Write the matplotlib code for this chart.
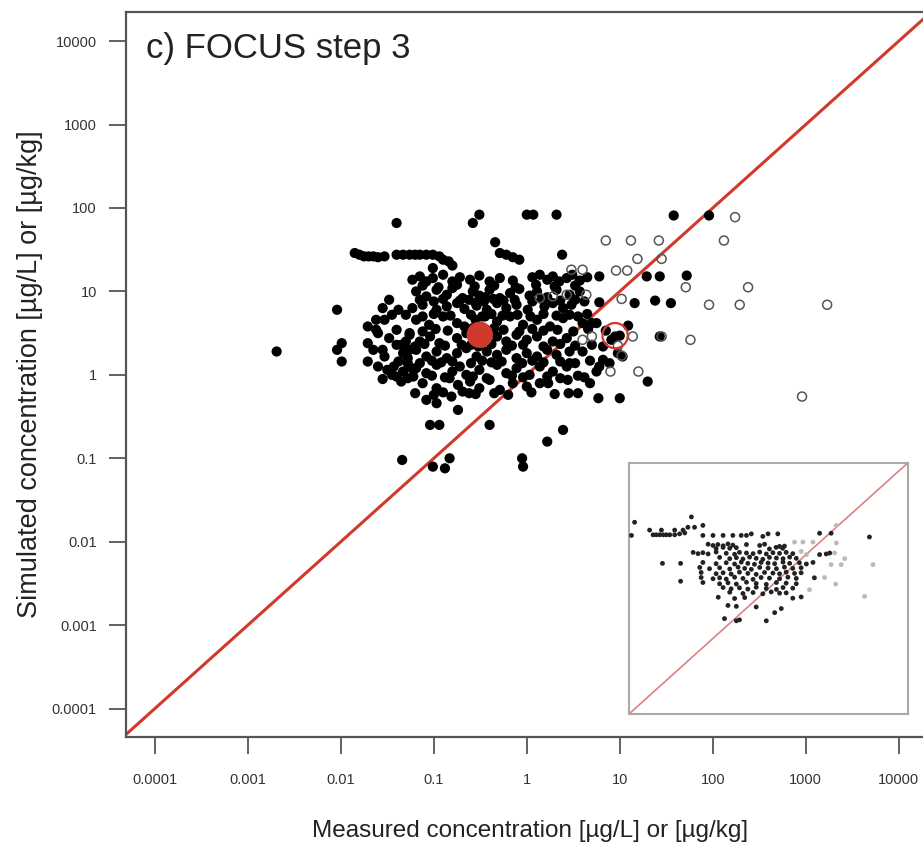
import numpy as np
import matplotlib.pyplot as plt
from matplotlib.ticker import FixedLocator, NullLocator

plt.rcParams['font.family'] = ['Liberation Sans', 'DejaVu Sans']

# log10 of measured / simulated concentrations, main panel (filled = detected)
meas_filled = [
    -1.40, -0.58, -0.51, 0.00, 0.07, 0.32, 1.58, 1.96,
    -0.34,
    -1.85, -1.80, -1.75, -1.70, -1.65, -1.60, -1.53, -1.40, -1.33, -1.26, -1.20, -1.15, -1.08, -1.01, -0.94, -0.90, -0.84,
    -0.29, -0.22, -0.15, -0.08, 0.38,
    -1.01, -0.80,
    -1.23, -1.15, -1.08, -1.01, -0.90, -0.80, -0.72, -0.61, -0.51, -0.40, -0.29, -0.15, 0.06, 0.14, 0.22, 0.28, 0.35, 0.43, 0.49, 0.57, 0.65, 0.78, 1.29, 1.43, 1.72,
    -1.12, -0.95, -0.75, -0.56, -0.35, -0.12, 0.10, 0.30, 0.52,
    -1.19, -1.08, -0.97, -0.86, -0.80, -0.69, -0.58, -0.51, -0.40, -0.29, -0.18, -0.08, 0.03, 0.11, 0.22, 0.32, 0.46, 0.57,
    -1.15, -1.00, -0.90, -0.72, -0.62, -0.46, -0.36, -0.25, -0.13, 0.06, 0.16, 0.36, 0.52, 0.62,
    -1.23, -1.12, -0.97, -0.86, -0.75, -0.67, -0.54, -0.43, -0.32, -0.22, -0.11, 0.01, 0.19, 0.28, 0.39, 0.48, 0.78, 1.16, 1.38, 1.55,
    -1.30, -1.12, -1.00, -0.82, -0.60, -0.48, -0.38, -0.26, -0.10, 0.04, 0.18, 0.32, 0.46, 0.55, 0.65,
    -1.19, -1.05, -0.90, -0.75, -0.67, -0.32, -0.18, -0.04, 0.11, 0.25, 0.39, 0.60, 0.70, 0.75, 1.09,
    -1.40, -1.12, -0.98, -0.85, -0.25, -0.08, 0.06, 0.18, 0.33, 0.50, 0.66, 0.85,
    -1.26, -1.15, -1.04, -0.94, -0.75, -0.32, -0.22, -0.11, 0.00, 0.11, 0.28, 0.43, 0.95, 1.00, 0.91, 1.43,
    -1.35, -1.20, -1.10, -0.88, -0.70, -0.52, -0.38, -0.16, -0.04, 0.18, 0.36, 0.52, 0.70, 0.82,
    -1.19, -1.08, -0.97, -0.86, -0.75, -0.65, -0.54, -0.43, -0.32, -0.22, -0.11, 0.00, 0.11, 0.22, 0.32, 0.46, 0.60, 0.98, 1.03,
    -1.38, -1.15, -1.02, -0.92, -0.80, -0.60, -0.48, -0.38, -0.27, -0.05, 0.06, 0.18, 0.36, 0.52, 0.68,
    -1.19, -1.08, -0.97, -0.80, -0.72, -0.65, -0.51, -0.32, -0.22, -0.11, 0.03, 0.14, 0.28, 0.43, 0.46, 0.82, 0.89, 0.78, 0.75,
    -1.40, -1.28, -1.02, -0.88, -0.58, -0.43, -0.16, -0.04, 0.22, 0.36, 0.55, 0.62,
    -1.12, -0.97, -0.83, -0.74, -0.69, -0.61, -0.51, -0.40, -0.29, -0.15, 0.00, 0.14, 0.23, 0.44, 0.68, 1.30,
    -1.20, -1.00, -0.90, -0.55, -0.35, -0.20, 0.05, 0.30, 0.55,
    -1.08, -0.97, -0.74, -0.81, -0.62, 0.77, 1.00, 0.45,
    -1.04, -0.94, -0.40, 0.39, 0.22,
    -1.34, -0.83, -1.01, -0.88, -0.05, -0.04,
    -2.69, -2.04, -2.04, -1.99, -1.99, -1.71, -1.71, -1.53, -1.60, -1.71, -1.62,
    -1.53, -1.45, -1.38, -1.48, -1.40, -1.33, -1.28, -1.33, -1.43, -1.26, -1.30, -1.26, -1.28, -1.24, -1.22, -1.35, -1.45, -1.55,
    -1.62, -1.55, -1.48, -1.65, -1.60, -1.50, -1.55,
    -0.65, -0.58, -0.40, -0.35, -0.45, -0.60, -0.55, -0.45, -0.55, -0.45,
]
sim_filled = [
    1.82, 1.82, 1.92, 1.92, 1.92, 1.92, 1.91, 1.91,
    1.59,
    1.46, 1.44, 1.42, 1.42, 1.42, 1.41, 1.42, 1.44, 1.44, 1.44, 1.44, 1.44, 1.44, 1.44, 1.42, 1.38, 1.36,
    1.46, 1.44, 1.41, 1.38, 1.44,
    1.28, 1.31,
    1.14, 1.18, 1.12, 1.16, 1.20, 1.12, 1.17, 1.14, 1.19, 1.12, 1.16, 1.13, 1.17, 1.20, 1.14, 1.18, 1.12, 1.16, 1.20, 1.13, 1.17, 1.18, 1.18, 1.18, 1.19,
    1.07, 1.05, 1.08, 1.06, 1.07, 1.05, 1.08, 1.06, 1.07,
    1.00, 0.94, 1.02, 0.96, 1.04, 0.92, 1.00, 0.95, 1.02, 0.92, 0.98, 1.03, 0.95, 1.00, 0.93, 1.02, 0.96, 1.00,
    0.90, 0.88, 0.91, 0.89, 0.90, 0.88, 0.91, 0.89, 0.90, 0.88, 0.91, 0.89, 0.90, 0.88,
    0.80, 0.84, 0.78, 0.82, 0.86, 0.79, 0.83, 0.78, 0.86, 0.80, 0.84, 0.78, 0.82, 0.86, 0.80, 0.84, 0.87, 0.86, 0.89, 0.86,
    0.72, 0.70, 0.73, 0.71, 0.72, 0.70, 0.73, 0.71, 0.72, 0.70, 0.73, 0.71, 0.72, 0.70, 0.73,
    0.66, 0.60, 0.70, 0.62, 0.58, 0.64, 0.70, 0.60, 0.66, 0.58, 0.68, 0.62, 0.62, 0.62, 0.59,
    0.54, 0.52, 0.55, 0.53, 0.54, 0.52, 0.55, 0.53, 0.54, 0.52, 0.55, 0.53,
    0.48, 0.40, 0.46, 0.38, 0.44, 0.46, 0.40, 0.48, 0.42, 0.46, 0.40, 0.44, 0.46, 0.47, 0.42, 0.46,
    0.36, 0.34, 0.37, 0.35, 0.36, 0.34, 0.37, 0.35, 0.36, 0.34, 0.37, 0.35, 0.36, 0.34,
    0.30, 0.22, 0.28, 0.20, 0.26, 0.32, 0.22, 0.28, 0.24, 0.30, 0.20, 0.26, 0.22, 0.30, 0.24, 0.28, 0.28, 0.26, 0.22,
    0.16, 0.14, 0.17, 0.15, 0.16, 0.14, 0.17, 0.15, 0.16, 0.14, 0.17, 0.15, 0.16, 0.14, 0.17,
    0.08, 0.02, 0.12, 0.04, 0.10, 0.00, 0.06, 0.12, 0.02, 0.08, 0.00, 0.10, 0.04, 0.10, 0.14, 0.18, 0.14, 0.10, 0.04,
    -0.02, -0.04, -0.01, -0.03, -0.02, -0.04, -0.01, -0.03, -0.02, -0.04, -0.01, -0.03,
    -0.10, -0.16, -0.04, -0.12, -0.20, -0.08, -0.16, -0.06, -0.18, -0.10, -0.14, -0.10, -0.10, -0.06, -0.10, -0.08,
    -0.22, -0.24, -0.21, -0.23, -0.22, -0.24, -0.21, -0.23, -0.22,
    -0.30, -0.34, -0.42, -0.26, -0.22, -0.28, -0.28, -0.22,
    -0.60, -0.60, -0.60, -0.66, -0.80,
    -1.02, -1.00, -1.10, -1.12, -1.00, -1.10,
    0.28, 0.78, 0.30, 0.38, 0.16, 0.38, 0.16, 0.22, 0.50, 0.58, 0.54,
    0.66, 0.72, 0.78, 0.44, 0.36, 0.26, 0.14, 0.04, 0.10, 0.50, 0.40, 0.30, 0.20, 0.08, -0.02, -0.08, 0.00, 0.30,
    0.66, 0.80, 0.90, 0.30, 0.10, 0.06, -0.05,
    0.50, 0.56, 0.52, 0.56, 0.40, 0.36, 0.66, 0.70, 0.86, 0.93,
]

# non-detects in the measurements (open circles)
meas_open = [0.85, 1.12, 1.42, 2.12, 2.24, 1.19, 1.45, 0.48, 0.60, 0.96, 1.08, 1.71, 2.38,
             1.02, 0.64, 0.14, 0.28, 0.43, 1.96, 2.29, 3.23, 1.14, 1.45, 1.76, 0.60, 0.70,
             1.02, 0.98, 0.90, 1.20, 2.96]
sim_open = [1.61, 1.61, 1.61, 1.61, 1.89, 1.39, 1.39, 1.26, 1.26, 1.25, 1.25, 1.05, 1.05,
            0.91, 0.96, 0.92, 0.94, 0.96, 0.84, 0.84, 0.84, 0.46, 0.46, 0.42, 0.42, 0.46,
            0.23, 0.35, 0.04, 0.04, -0.26]

# highlighted values
median_point = (-0.505, 0.48)
ring_point = (0.95, 0.47)

# small panel, same units (log10)
inset_x_black = [-3.84, -3.93, -2.21,
                 -3.41, -3.31, -3.22, -3.12, -3.02, -2.93, -2.83, -2.69, -2.55, -2.40, -3.07, -2.69, -2.45,
                 -2.31, -2.12, -1.88, -1.88, -1.59, -1.30, -1.02, -0.78, -0.63, -0.49, -0.16, -0.01, 0.27,
                 2.90, -3.04, -2.52, -2.52, 1.47, 1.80, 1.47, 1.66, 1.76,
                 -1.73, -1.59, -1.45, -1.30, -1.16, -1.02, -0.63, -0.25, -0.11, 0.32, 0.46,
                 -1.50, -1.30, -1.11, -0.92, 0.03, 0.22, 0.41,
                 -2.16, -2.02, -1.88, -1.73, -1.50, -1.21, -0.97, -0.83, -0.63, -0.44, -0.25, -0.06, 0.13, 0.32, 0.51, 0.70,
                 -1.40, -1.11, -0.92, -0.73, -0.54, -0.35, -0.16, 0.03, 0.23, 0.42, 0.61, 0.80,
                 -1.88, -1.50, -1.21, -0.97, -0.78, -0.59, -0.40, -0.21, -0.01, 0.18, 0.42, 0.61, 0.89, 1.09, 1.28,
                 -1.97, -1.69, -1.40, -1.11, -0.87, -0.68, -0.49, -0.25, -0.01, 0.23, 0.46, 0.70, 0.94,
                 -1.93, -1.50, -1.30, -1.07, -0.83, -0.59, -0.35, -0.11, 0.13, 0.32, 0.51, 0.75, 0.94,
                 -1.93, -1.59, -1.40, -1.21, -0.97, -0.73, -0.44, -0.21, 0.03, 0.32, 0.56, 0.80, 1.32,
                 -1.88, -1.40, -1.16, -0.92, -0.63, -0.35, -0.06, 0.23, 0.51, 0.80,
                 -1.30, -1.07, -0.83, -0.59, -0.35, -0.06, 0.23, 0.42, 0.70,
                 -1.11, -0.73, -0.44, -0.16, 0.08, 0.32, 0.51,
                 -1.44, -0.97, -0.68, 0.70, 0.94,
                 -1.16, -0.92, -0.35, 0.18, 0.37, -1.26, -0.92, -0.83, -0.06]
inset_y_black = [2.11, 1.69, 2.28,
                 1.86, 1.71, 1.71, 1.71, 1.71, 1.71, 1.71, 1.71, 1.74, 1.77, 1.86, 1.86, 1.86,
                 1.95, 1.95, 2.01, 1.69, 1.69, 1.69, 1.69, 1.69, 1.69, 1.74, 1.66, 1.74, 1.74,
                 1.64, 0.80, 0.80, 0.23, 1.76, 1.76, 1.08, 1.10, 1.13,
                 1.41, 1.37, 1.40, 1.36, 1.42, 1.38, 1.40, 1.37, 1.41, 1.34, 1.35,
                 1.27, 1.31, 1.28, 1.30, 1.26, 1.31, 1.28,
                 1.15, 1.11, 1.14, 1.10, 1.16, 1.12, 1.09, 1.15, 1.13, 1.11, 1.16, 1.10, 1.14, 1.12, 1.15, 1.11,
                 0.99, 0.95, 0.98, 0.94, 1.00, 0.96, 0.93, 0.99, 0.97, 0.95, 1.00, 0.96,
                 0.83, 0.79, 0.82, 0.78, 0.84, 0.80, 0.77, 0.83, 0.81, 0.79, 0.84, 0.80, 0.82, 0.78, 0.83,
                 0.67, 0.63, 0.66, 0.62, 0.68, 0.64, 0.61, 0.67, 0.65, 0.63, 0.68, 0.64, 0.66,
                 0.51, 0.47, 0.50, 0.46, 0.52, 0.48, 0.45, 0.51, 0.49, 0.47, 0.52, 0.48, 0.50,
                 0.35, 0.31, 0.34, 0.30, 0.36, 0.32, 0.29, 0.35, 0.33, 0.31, 0.36, 0.32, 0.34,
                 0.19, 0.15, 0.18, 0.14, 0.20, 0.16, 0.13, 0.19, 0.17, 0.15,
                 0.03, -0.01, 0.02, -0.02, 0.04, 0.00, -0.03, 0.03, 0.01,
                 -0.12, -0.16, -0.13, -0.17, -0.11, -0.15, -0.14,
                 -0.28, -0.32, -0.29, -0.31, -0.27,
                 -0.54, -0.57, -0.59, -0.77, -0.64, -0.96, -1.03, -1.00, -1.03]
inset_x_grey = [0.75, 0.99, 1.28, 1.95, 1.95, 1.90, 2.19, 1.80, 2.09, 1.61, 1.93, 2.76, 3.00, 1.18, 0.94, 1.09]
inset_y_grey = [1.48, 1.48, 1.48, 2.01, 1.45, 1.13, 0.95, 0.76, 0.76, 0.35, 0.14, -0.25, 0.76, -0.04, 1.18, 1.08]

ticks = [1e-4, 1e-3, 1e-2, 1e-1, 1, 10, 100, 1000, 10000]
tick_labels = ['0.0001', '0.001', '0.01', '0.1', '1', '10', '100', '1000', '10000']

red = '#d0392b'
box_col = '#555555'

fig = plt.figure(figsize=(9.23, 8.51), dpi=100)
ax = fig.add_axes([0.1365, 0.134, 0.8765, 0.852])
ax.set_xscale('log')
ax.set_yscale('log')
ax.set_xlim(10 ** -4.31, 10 ** 4.39)
ax.set_ylim(10 ** -4.34, 10 ** 4.35)

ax.plot([1e-6, 1e6], [1e-6, 1e6], color=red, lw=2.2, zorder=1)

ax.scatter(10 ** np.array(meas_filled), 10 ** np.array(sim_filled),
           s=54, color='black', edgecolors='none', zorder=3)
ax.scatter(10 ** np.array(meas_open), 10 ** np.array(sim_open),
           s=42, facecolors='none', edgecolors='#555555', linewidths=1.1, zorder=3)
ax.scatter([10 ** median_point[0]], [10 ** median_point[1]],
           s=360, color=red, edgecolors='none', zorder=4)
ax.scatter([10 ** ring_point[0]], [10 ** ring_point[1]],
           s=330, facecolors='none', edgecolors=red, linewidths=1.6, zorder=4)

for axis in (ax.xaxis, ax.yaxis):
    axis.set_major_locator(FixedLocator(ticks))
    axis.set_minor_locator(NullLocator())
ax.set_xticklabels(tick_labels)
ax.set_yticklabels(tick_labels)
ax.tick_params(direction='out', length=12, width=1.3, color=box_col,
               labelsize=10.5, labelcolor='#333333')
ax.tick_params(axis='x', pad=14)
ax.tick_params(axis='y', pad=9)
for sp in ax.spines.values():
    sp.set_color(box_col)
    sp.set_linewidth(1.6)

ax.set_xlabel('Measured concentration [µg/L] or [µg/kg]', fontsize=17.5, color='#222222', labelpad=24)
ax.set_ylabel('Simulated concentration [µg/L] or [µg/kg]', fontsize=19.5, color='#222222', labelpad=6)
ax.text(0.025, 0.95, 'c) FOCUS step 3', transform=ax.transAxes,
        fontsize=25, color='#222222', va='center', ha='left')

# small panel
ins = fig.add_axes([0.6815, 0.161, 0.302, 0.295])
ins.set_xscale('log')
ins.set_yscale('log')
ins.set_xlim(1e-4, 1e4)
ins.set_ylim(1e-4, 1e4)
ins.plot([1e-4, 1e4], [1e-4, 1e4], color='#e08080', lw=1.2, zorder=1)
ins.scatter(10 ** np.array(inset_x_grey), 10 ** np.array(inset_y_grey),
            s=12, color='#bbbbbb', edgecolors='none', zorder=2)
ins.scatter(10 ** np.array(inset_x_black), 10 ** np.array(inset_y_black),
            s=12, color='#222222', edgecolors='none', zorder=3)
ins.set_xticks([])
ins.set_yticks([])
ins.xaxis.set_minor_locator(NullLocator())
ins.yaxis.set_minor_locator(NullLocator())
for sp in ins.spines.values():
    sp.set_color('#aaaaaa')
    sp.set_linewidth(1.5)

fig.savefig('out.png', dpi=100)
